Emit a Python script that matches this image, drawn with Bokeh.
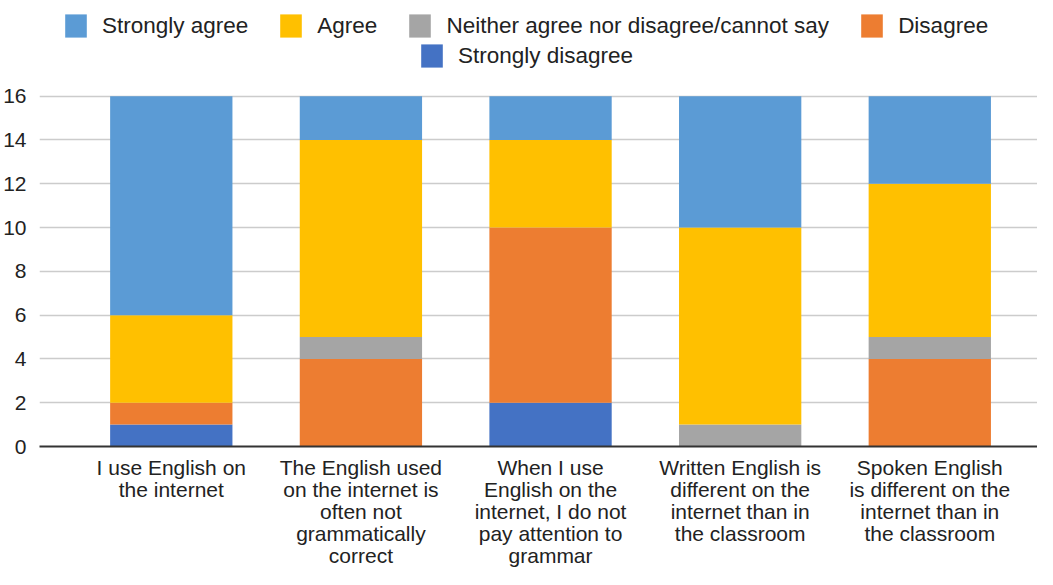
from bokeh.plotting import figure
from bokeh.models import (ColumnDataSource, Legend, LegendItem, FixedTicker, Range1d,
                          LinearAxis)
from bokeh.embed import file_html
from bokeh.resources import INLINE

categories = [
    "I use English on\nthe internet",
    "The English used\non the internet is\noften not\ngrammatically\ncorrect",
    "When I use\nEnglish on the\ninternet, I do not\npay attention to\ngrammar",
    "Written English is\ndifferent on the\ninternet than in\nthe classroom",
    "Spoken English\nis different on the\ninternet than in\nthe classroom",
]
strongly_disagree = [1, 0, 2, 0, 0]
disagree = [1, 4, 8, 0, 4]
neither = [0, 1, 0, 1, 1]
agree = [4, 9, 4, 9, 7]
strongly_agree = [10, 2, 2, 6, 4]
y_ticks = [0, 2, 4, 6, 8, 10, 12, 14, 16]

series_names = ["Strongly disagree", "Disagree",
                "Neither agree nor disagree/cannot say", "Agree", "Strongly agree"]
series_keys = ["sd", "d", "n", "a", "sa"]
colors = ["#4472c4", "#ed7d31", "#a5a5a5", "#ffc000", "#5b9bd5"]

x = list(range(len(categories)))
source = ColumnDataSource(dict(x=x, sd=strongly_disagree, d=disagree, n=neither,
                               a=agree, sa=strongly_agree))

FONT = "Liberation Sans"

p = figure(width=1037, height=569, output_backend="svg", toolbar_location=None,
           x_range=Range1d(-0.695, 4.568), y_range=Range1d(0, 20.37))
p.min_border_left = 37
p.min_border_right = 0
p.min_border_bottom = 0
p.min_border_top = 0
p.outline_line_color = None

renderers = p.vbar_stack(series_keys, x="x", width=0.645, source=source,
                         color=colors, line_color=None)

# category labels: one axis per text line, stacked below the plot
lines = [c.split("\n") for c in categories]
nlines = max(len(l) for l in lines)

def style_xaxis(ax, k, first):
    ax.ticker = FixedTicker(ticks=x)
    ax.major_label_overrides = {i: (lines[i][k] if k < len(lines[i]) else " ")
                                for i in x}
    ax.major_label_text_font = FONT
    ax.major_label_text_font_size = "21px"
    ax.major_label_text_color = "#222222"
    ax.major_tick_line_color = None
    ax.minor_tick_line_color = None
    ax.major_tick_in = 0
    ax.major_tick_out = 0
    ax.minor_tick_in = 0
    ax.minor_tick_out = 0
    if first:
        ax.axis_line_color = "#333333"
        ax.axis_line_width = 2
        ax.major_label_standoff = 9
    else:
        ax.axis_line_color = None
        ax.major_label_standoff = -4

style_xaxis(p.xaxis[0], 0, True)
for k in range(1, nlines):
    ax = LinearAxis()
    style_xaxis(ax, k, False)
    p.add_layout(ax, "below")

p.yaxis.ticker = FixedTicker(ticks=y_ticks)
p.yaxis.major_label_text_font = FONT
p.yaxis.major_label_text_font_size = "21px"
p.yaxis.major_label_text_color = "#222222"
p.yaxis.major_tick_line_color = None
p.yaxis.minor_tick_line_color = None
p.yaxis.major_tick_in = 0
p.yaxis.major_tick_out = 0
p.yaxis.axis_line_color = None
p.yaxis.major_label_standoff = 13

p.xgrid.grid_line_color = None
p.ygrid.grid_line_color = "#cccccc"
p.ygrid.grid_line_width = 1.5

order_row1 = [4, 3, 2, 1]
order_row2 = [0]

def make_legend(idx, loc):
    items = [LegendItem(label=series_names[i], renderers=[renderers[i]]) for i in idx]
    return Legend(items=items, orientation="horizontal", location=loc,
                  label_text_font=FONT, label_text_font_size="22.5px",
                  label_text_color="#222222", glyph_width=27, glyph_height=29,
                  label_height=29,
                  label_standoff=13, spacing=29, padding=0, margin=0,
                  border_line_color=None, background_fill_alpha=0)

p.add_layout(make_legend(order_row1, (23, 406)))
p.add_layout(make_legend(order_row2, (379, 376)))

open("out.html", "w").write(file_html(p, INLINE))
